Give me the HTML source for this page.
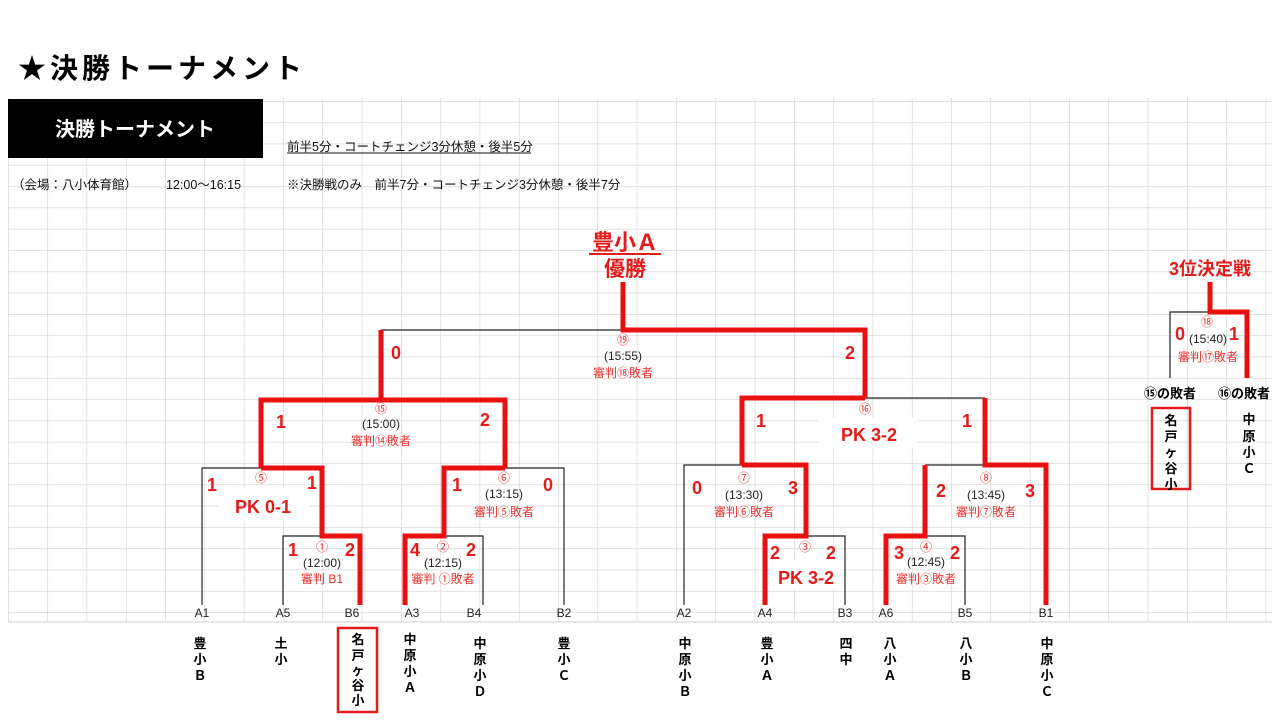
<!DOCTYPE html>
<html><head><meta charset="utf-8"><style>
html,body{margin:0;padding:0;background:#fff;}
svg{display:block;font-family:"Liberation Sans","Noto Sans CJK JP",sans-serif;}
.r{fill:#e31b1b;font-weight:bold;}
.s{fill:#e83030;font-size:12px;text-anchor:middle;}
.k{fill:#222;font-size:12px;text-anchor:middle;}
.sc{fill:#e31b1b;font-weight:bold;font-size:18px;text-anchor:middle;}
.lf{fill:#222;font-size:12px;text-anchor:middle;}
.tn{fill:#000;font-weight:bold;font-size:13px;text-anchor:middle;}
</style></head><body>
<svg width="1280" height="720" viewBox="0 0 1280 720" xmlns="http://www.w3.org/2000/svg">
<defs>
<pattern id="g" x="8" y="101" width="39.3" height="21.3" patternUnits="userSpaceOnUse">
<path d="M0 0 V21.3 M0 0 H39.3" stroke="#cfcfcf" stroke-width="1.2" fill="none"/>
</pattern>
</defs>
<rect x="8" y="98" width="1264" height="524" fill="url(#g)"/>
<line x1="8" y1="622" x2="1272" y2="622" stroke="#cfcfcf"/>
<text x="18" y="78" font-size="28" font-weight="bold" fill="#000" letter-spacing="4">★決勝トーナメント</text>
<rect x="8" y="99" width="255" height="59" fill="#000"/>
<text x="135" y="136" font-size="20" font-weight="bold" fill="#fff" text-anchor="middle">決勝トーナメント</text>
<text x="287" y="151" font-size="12.5" fill="#111">前半5分・コートチェンジ3分休憩・後半5分</text>
<line x1="287" y1="153" x2="531" y2="153" stroke="#111" stroke-width="1"/>
<text x="12" y="189" font-size="12.5" fill="#111">（会場：八小体育館）</text>
<text x="166" y="189" font-size="12.5" fill="#111">12:00〜16:15</text>
<text x="287" y="189" font-size="12.5" fill="#111">※決勝戦のみ　前半7分・コートチェンジ3分休憩・後半7分</text>

<rect x="218" y="488" width="92" height="32" fill="#fff"/>
<rect x="818" y="418" width="100" height="30" fill="#fff"/>
<rect x="770" y="560" width="72" height="30" fill="#fff"/>

<g stroke="#222" stroke-width="1.2" fill="none">
<path d="M381 330 H623"/>
<path d="M202 605 V468 H261"/>
<path d="M283 605 V536 H322"/>
<path d="M505 468 H564 V605"/>
<path d="M444 536 H483 V605"/>
<path d="M684 605 V465 H742"/>
<path d="M806 536 H845 V605"/>
<path d="M865 398 H985"/>
<path d="M925 465 H1046"/>
<path d="M925 536 H965 V605"/>
<path d="M1170 378 V312 H1210"/>
</g>
<g stroke="#e81010" stroke-width="5" fill="none" stroke-linejoin="miter">
<path d="M623 282 V330 H865 V398"/>
<path d="M381 330 V400"/>
<path d="M261 468 V400 H505 V468"/>
<path d="M261 468 H322 V536 H360 V605"/>
<path d="M505 468 H444 V536 H405 V605"/>
<path d="M742 465 V398 H865"/>
<path d="M742 465 H806 V536 H765 V605"/>
<path d="M985 398 V465 H1046 V605"/>
<path d="M925 465 V536 H886 V605"/>
<path d="M1210 282 V312 H1247 V378"/>
</g>

<text x="625" y="250" class="r" font-size="22" text-anchor="middle">豊小Ａ</text>
<line x1="589" y1="254" x2="661" y2="254" stroke="#e31b1b" stroke-width="2"/>
<text x="625" y="276" class="r" font-size="21" text-anchor="middle">優勝</text>

<text x="623" y="344" class="s">⑲</text>
<text x="623" y="360" class="k">(15:55)</text>
<text x="623" y="377" class="s">審判⑱敗者</text>
<text x="396" y="359" class="sc">0</text>
<text x="850" y="359" class="sc">2</text>
<text x="381" y="413" class="s">⑮</text>
<text x="381" y="428" class="k">(15:00)</text>
<text x="381" y="445" class="s">審判⑭敗者</text>
<text x="281" y="428" class="sc">1</text>
<text x="485" y="426" class="sc">2</text>
<text x="261" y="482" class="s">⑤</text>
<text x="212" y="491" class="sc">1</text>
<text x="312" y="489" class="sc">1</text>
<text x="263" y="513" class="sc">PK  0-1</text>
<text x="322" y="551" class="s">①</text>
<text x="293" y="556" class="sc">1</text>
<text x="350" y="556" class="sc">2</text>
<text x="322" y="567" class="k">(12:00)</text>
<text x="322" y="583" class="s">審判 B1</text>
<text x="504" y="482" class="s">⑥</text>
<text x="457" y="491" class="sc">1</text>
<text x="548" y="491" class="sc">0</text>
<text x="504" y="498" class="k">(13:15)</text>
<text x="504" y="516" class="s">審判⑤敗者</text>
<text x="443" y="551" class="s">②</text>
<text x="415" y="556" class="sc">4</text>
<text x="471" y="556" class="sc">2</text>
<text x="443" y="567" class="k">(12:15)</text>
<text x="443" y="583" class="s">審判 ①敗者</text>
<text x="865" y="413" class="s">⑯</text>
<text x="761" y="427" class="sc">1</text>
<text x="967" y="427" class="sc">1</text>
<text x="869" y="441" class="sc">PK  3-2</text>
<text x="744" y="482" class="s">⑦</text>
<text x="697" y="494" class="sc">0</text>
<text x="793" y="494" class="sc">3</text>
<text x="744" y="499" class="k">(13:30)</text>
<text x="744" y="516" class="s">審判⑥敗者</text>
<text x="805" y="551" class="s">③</text>
<text x="775" y="559" class="sc">2</text>
<text x="831" y="559" class="sc">2</text>
<text x="806" y="584" class="sc">PK  3-2</text>
<text x="986" y="482" class="s">⑧</text>
<text x="941" y="497" class="sc">2</text>
<text x="1030" y="497" class="sc">3</text>
<text x="986" y="499" class="k">(13:45)</text>
<text x="986" y="516" class="s">審判⑦敗者</text>
<text x="926" y="551" class="s">④</text>
<text x="899" y="559" class="sc">3</text>
<text x="955" y="559" class="sc">2</text>
<text x="926" y="566" class="k">(12:45)</text>
<text x="926" y="583" class="s">審判③敗者</text>

<text x="1210" y="275" class="r" font-size="18" text-anchor="middle">3位決定戦</text>
<text x="1207" y="326" class="s">⑱</text>
<text x="1180" y="340" class="sc">0</text>
<text x="1234" y="340" class="sc">1</text>
<text x="1208" y="343" class="k">(15:40)</text>
<text x="1208" y="361" class="s">審判⑰敗者</text>
<text x="1170" y="398" class="tn" font-size="11">⑮の敗者</text>
<text x="1244" y="398" class="tn" font-size="11">⑯の敗者</text>
<rect x="1152" y="408" width="38" height="81" fill="none" stroke="#e31b1b" stroke-width="2.5"/>
<g class="tn">
<text x="1171" y="425">名</text><text x="1171" y="441">戸</text><text x="1171" y="457">ヶ</text><text x="1171" y="473">谷</text><text x="1171" y="489">小</text>
<text x="1249" y="424">中</text><text x="1249" y="441">原</text><text x="1249" y="457">小</text><text x="1249" y="473">Ｃ</text>
</g>

<g class="lf">
<text x="202" y="617">A1</text><text x="283" y="617">A5</text><text x="352" y="617">B6</text>
<text x="412" y="617">A3</text><text x="474" y="617">B4</text><text x="564" y="617">B2</text>
<text x="684" y="617">A2</text><text x="765" y="617">A4</text><text x="845" y="617">B3</text>
<text x="886" y="617">A6</text><text x="965" y="617">B5</text><text x="1046" y="617">B1</text>
</g>
<rect x="338" y="628" width="39" height="84" fill="none" stroke="#e31b1b" stroke-width="2.5"/>
<g class="tn">
<text x="200" y="648">豊</text><text x="200" y="664">小</text><text x="200" y="680">Ｂ</text>
<text x="281" y="648">土</text><text x="281" y="664">小</text>
<text x="358" y="644">名</text><text x="358" y="660">戸</text><text x="358" y="675">ヶ</text><text x="358" y="690">谷</text><text x="358" y="705">小</text>
<text x="410" y="644">中</text><text x="410" y="660">原</text><text x="410" y="676">小</text><text x="410" y="692">Ａ</text>
<text x="480" y="648">中</text><text x="480" y="664">原</text><text x="480" y="680">小</text><text x="480" y="696">Ｄ</text>
<text x="564" y="648">豊</text><text x="564" y="664">小</text><text x="564" y="680">Ｃ</text>
<text x="685" y="648">中</text><text x="685" y="664">原</text><text x="685" y="680">小</text><text x="685" y="696">Ｂ</text>
<text x="767" y="648">豊</text><text x="767" y="664">小</text><text x="767" y="680">Ａ</text>
<text x="846" y="648">四</text><text x="846" y="664">中</text>
<text x="890" y="648">八</text><text x="890" y="664">小</text><text x="890" y="680">Ａ</text>
<text x="966" y="648">八</text><text x="966" y="664">小</text><text x="966" y="680">Ｂ</text>
<text x="1047" y="648">中</text><text x="1047" y="664">原</text><text x="1047" y="680">小</text><text x="1047" y="696">Ｃ</text>
</g>
</svg>
</body></html>
